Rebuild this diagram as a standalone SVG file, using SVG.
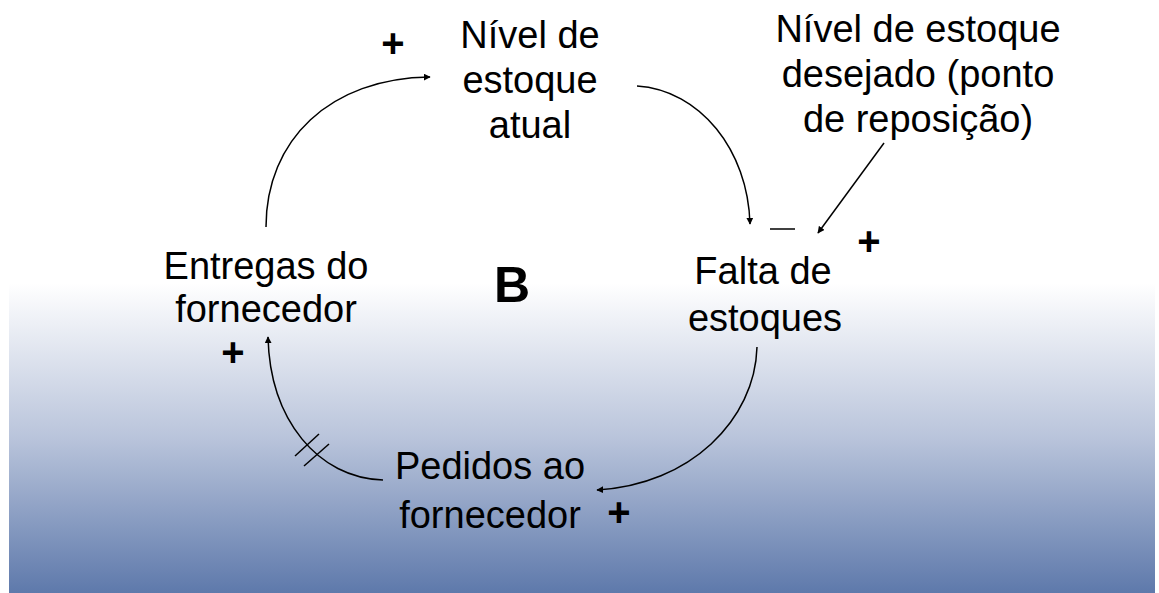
<svg xmlns="http://www.w3.org/2000/svg" width="1159" height="593" viewBox="0 0 1159 593">
<defs>
<linearGradient id="bg" x1="0" y1="0" x2="0" y2="1">
<stop offset="0" stop-color="#ffffff"/>
<stop offset="0.5" stop-color="#b9c4db"/>
<stop offset="1" stop-color="#5e79ab"/>
</linearGradient>
<marker id="ah" viewBox="0 0 10 10" refX="9" refY="5" markerWidth="7" markerHeight="7" markerUnits="userSpaceOnUse" orient="auto">
<path d="M0,0 L10,5 L0,10 z" fill="#000"/>
</marker>
</defs>
<style>
text{font-family:"Liberation Sans",Arial,sans-serif;font-size:38px;fill:#000;text-anchor:middle}
.sign{font-size:40px;font-weight:bold}
.b{font-size:50px;font-weight:bold}
.c{fill:none;stroke:#000;stroke-width:1.5;marker-end:url(#ah)}
.h{stroke:#000;stroke-width:1.5}
</style>
<rect x="0" y="0" width="1159" height="593" fill="#fff"/>
<rect x="9" y="283" width="1146" height="310" fill="url(#bg)"/>
<g id="connectors">
<path class="c" d="M266,227 C266,140 330,78 430,77"/>
<path class="c" d="M637,86 C700,90 748,150 750,224"/>
<path class="c" d="M884,143 L818,233"/>
<path class="c" d="M757,347 C755,420 690,485 597,490"/>
<path class="c" d="M383,480 C318,478 270,420 268,337"/>
<line class="h" x1="295" y1="456" x2="319" y2="434"/>
<line class="h" x1="304" y1="466" x2="329" y2="444"/>
</g>
<g id="nivel-atual">
<text x="530" y="48">Nível de</text>
<text x="530" y="93">estoque</text>
<text x="530" y="138">atual</text>
</g>
<g id="nivel-desejado">
<text x="918" y="42">Nível de estoque</text>
<text x="918" y="87">desejado (ponto</text>
<text x="918" y="132">de reposição)</text>
</g>
<g id="falta">
<text x="763" y="284">Falta de</text>
<text x="765" y="331">estoques</text>
</g>
<g id="entregas">
<text x="266" y="279">Entregas do</text>
<text x="266" y="322">fornecedor</text>
</g>
<g id="pedidos">
<text x="490" y="479">Pedidos ao</text>
<text x="490" y="528">fornecedor</text>
</g>
<g id="loop">
<text class="b" x="512" y="302">B</text>
</g>
<g id="polarities">
<text class="sign" x="393" y="57">+</text>
<text class="sign" x="869" y="255">+</text>
<text class="sign" x="233" y="366">+</text>
<text class="sign" x="619" y="526">+</text>
<line x1="770" y1="229" x2="795" y2="229" stroke="#000" stroke-width="1.5"/>
</g>
</svg>
